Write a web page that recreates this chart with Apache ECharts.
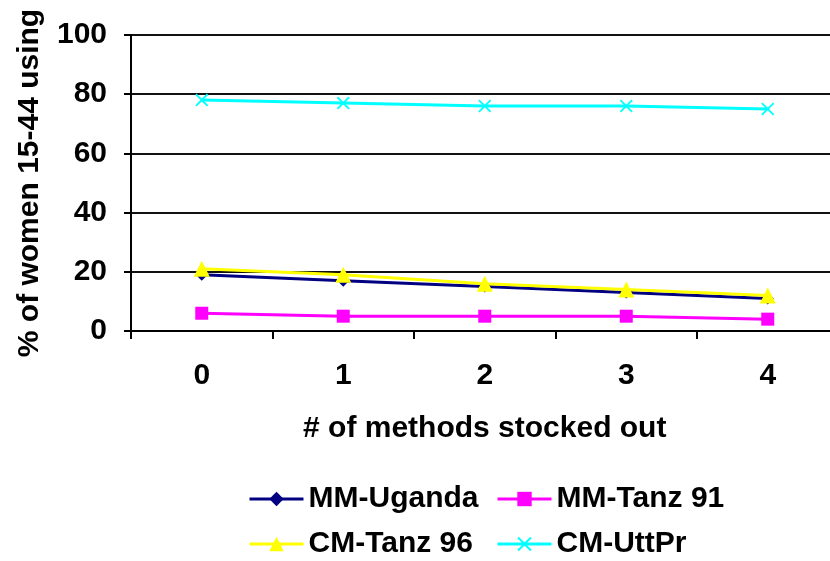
<!DOCTYPE html>
<html>
<head>
<meta charset="utf-8">
<script src="https://cdn.jsdelivr.net/npm/echarts@6/dist/echarts.min.js"></script>
<style>html,body{margin:0;padding:0;background:#fff}#c{width:830px;height:561px}</style>
</head>
<body>
<div id="c"></div>
<script>
var categories = ['0', '1', '2', '3', '4'];
var mmUganda = [19, 17, 15, 13, 11];
var mmTanz91 = [6, 5, 5, 5, 4];
var cmTanz96 = [21, 19, 16, 14, 12];
var cmUttPr = [78, 77, 76, 76, 75];
var yTicks = [0, 20, 40, 60, 80, 100];

var font = 'Liberation Sans, Arial, sans-serif';
var xPath = 'path://M0,1L1,0L5,4L9,0L10,1L6,5L10,9L9,10L5,6L1,10L0,9L4,5Z';
var txt = {fontFamily: font, fontWeight: 'bold', fontSize: 30, color: '#000'};

var chart = echarts.init(document.getElementById('c'));
function ser(name, data, color, symbol, size, width) {
  return {
    name: name, type: 'line', data: data, symbol: symbol, symbolSize: size,
    lineStyle: {color: color, width: width}, itemStyle: {color: color},
    showAllSymbol: true, animation: false, z: 3
  };
}
function leg(item, left, top) {
  return {
    data: [item], orient: 'horizontal', left: left, top: top,
    itemWidth: 54, itemHeight: 18, padding: 0,
    lineStyle: {width: 3},
    textStyle: Object.assign({lineHeight: 30}, txt)
  };
}
chart.setOption({
  animation: false,
  grid: {left: 131, top: 35, height: 296, width: 707.5, containLabel: false, outerBoundsMode: 'none'},
  xAxis: {
    type: 'category', data: categories, boundaryGap: true,
    name: '# of methods stocked out', nameLocation: 'middle', nameGap: 83,
    nameTextStyle: txt,
    axisLine: {lineStyle: {color: '#000', width: 2}},
    axisTick: {show: true, length: 8, lineStyle: {color: '#000', width: 2}},
    axisLabel: Object.assign({margin: 30}, txt),
    splitLine: {show: false}
  },
  yAxis: {
    type: 'value', min: yTicks[0], max: yTicks[yTicks.length - 1], interval: 20,
    name: '% of women 15-44 using', nameLocation: 'middle', nameGap: 86, nameRotate: 90,
    nameTextStyle: txt,
    axisLine: {show: true, lineStyle: {color: '#000', width: 2}},
    axisTick: {show: true, length: 7, lineStyle: {color: '#000', width: 2}},
    axisLabel: Object.assign({margin: 24}, txt),
    splitLine: {show: true, lineStyle: {color: '#111', width: 2}}
  },
  legend: [
    leg('MM-Uganda', 248, 484),
    leg('CM-Tanz 96', 248, 529),
    leg('MM-Tanz 91', 496, 484),
    leg('CM-UttPr', 496, 529)
  ],
  series: [
    ser('MM-Uganda', mmUganda, '#000080', 'diamond', 12, 3),
    ser('MM-Tanz 91', mmTanz91, '#FF00FF', 'rect', 13, 3),
    ser('CM-Tanz 96', cmTanz96, '#FFFF00', 'triangle', 16, 3),
    ser('CM-UttPr', cmUttPr, '#00FFFF', xPath, 13, 3)
  ]
});
</script>
</body>
</html>
